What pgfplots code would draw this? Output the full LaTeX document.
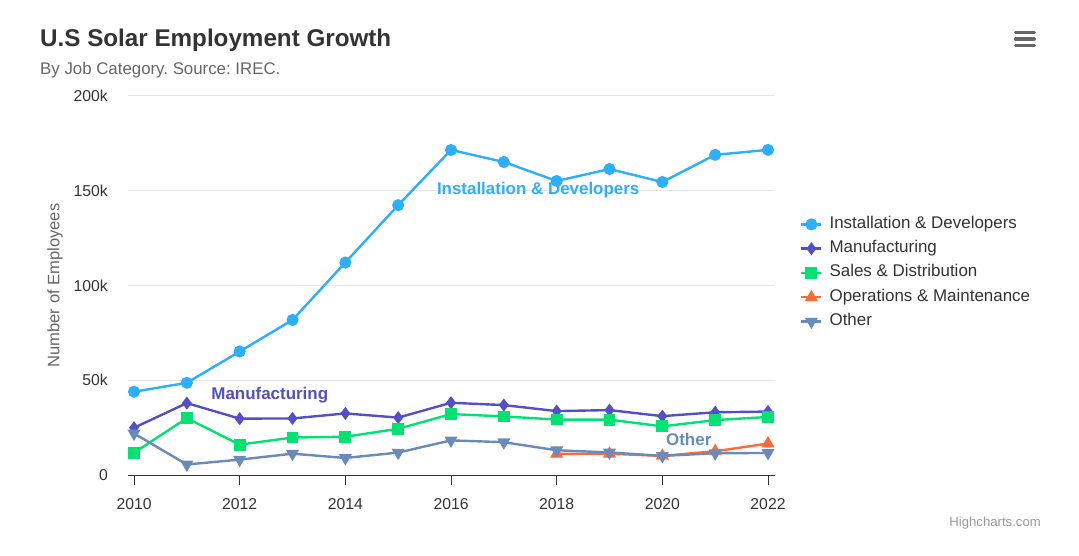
\documentclass[border=0pt]{standalone}
\usepackage{pgfplots}
\pgfplotsset{compat=1.18}
\usepackage{fontspec}
\setmainfont{Liberation Sans}
\frenchspacing

\definecolor{c1}{HTML}{2CAFFE}
\definecolor{c2}{HTML}{544FC5}
\definecolor{c3}{HTML}{00E272}
\definecolor{c4}{HTML}{FE6A35}
\definecolor{c5}{HTML}{6B8ABC}
\definecolor{txt}{HTML}{333333}
\definecolor{sub}{HTML}{666666}
\definecolor{cred}{HTML}{999999}
\definecolor{gridc}{HTML}{E6E6E6}

\begin{document}
\begin{tikzpicture}
\path[use as bounding box] (0bp,0bp) rectangle (1079bp,556bp);
\begin{axis}[
    at={(128bp,81bp)}, anchor=south west,
    scale only axis, width=647bp, height=379bp,
    xmin=2009.886, xmax=2022.1325,
    ymin=0, ymax=200000,
    /pgf/number format/assume math mode=true,
    /pgf/number format/1000 sep={},
    axis x line*=bottom, axis y line*=left,
    x axis line style={draw=txt, line width=1bp, -},
    y axis line style={draw=none},
    xtick={2010,2012,...,2022},
    ytick={0,50000,100000,150000,200000},
    yticklabels={0,50k,100k,150k,200k},
    scaled y ticks=false,
    tick align=outside, major tick length=10bp,
    xtick style={draw=txt, line width=1bp},
    ytick style={draw=none},
    ymajorgrids, grid style={draw=gridc, line width=1bp},
    tick label style={font=\fontsize{15.8}{18}\selectfont, text=txt},
    xticklabel style={inner sep=0pt, anchor=north, yshift=-13bp},
    yticklabel style={inner sep=0pt, anchor=east, xshift=-10bp},
    ylabel={Number of Employees},
    ylabel style={at={(axis description cs:-0.1128,0.5)}, anchor=center, rotate=0,
        font=\fontsize{16.6}{19}\selectfont, text=sub},
    legend style={draw=none, fill=none, inner sep=0pt,
        at={(axis description cs:1.0386,0.533)}, anchor=west,
        font=\fontsize{17}{20}\selectfont, text=txt,
        nodes={inner sep=0pt, text height=12bp, text depth=4bp},
        row sep=8.3bp, column sep=7bp},
    legend cell align=left,
    legend image code/.code={
        \draw[mark repeat=2, mark phase=2, #1]
        plot coordinates {(0bp,0bp) (10bp,0bp) (20bp,0bp)};},
    every axis plot/.append style={line width=2.4bp},
]
\addplot[color=c1, mark=*, mark size=4.8bp, mark options={solid}] coordinates {
    (2010,43934) (2011,48656) (2012,65165) (2013,81827) (2014,112143)
    (2015,142383) (2016,171533) (2017,165174) (2018,155157) (2019,161454)
    (2020,154610) (2021,168960) (2022,171558)};
\addlegendentry{Installation \& Developers}
\addplot[color=c2, mark=diamond*, mark size=4.6bp, mark options={solid}] coordinates {
    (2010,24916) (2011,37941) (2012,29742) (2013,29851) (2014,32490)
    (2015,30282) (2016,38121) (2017,36885) (2018,33726) (2019,34243)
    (2020,31050) (2021,33099) (2022,33473)};
\addlegendentry{Manufacturing}
\addplot[color=c3, mark=square*, mark size=4.7bp, mark options={solid}] coordinates {
    (2010,11744) (2011,30000) (2012,16005) (2013,19771) (2014,20185)
    (2015,24377) (2016,32147) (2017,30912) (2018,29243) (2019,29213)
    (2020,25663) (2021,28978) (2022,30618)};
\addlegendentry{Sales \& Distribution}
\addplot[color=c4, mark=triangle*, mark size=5.2bp, mark options={solid}] coordinates {
    (2018,11164) (2019,11218) (2020,10077) (2021,12530) (2022,16585)};
\addlegendentry{Operations \& Maintenance}
\addplot[color=c5, mark=triangle*, mark size=5.2bp, mark options={solid, rotate=180}] coordinates {
    (2010,21908) (2011,5548) (2012,8105) (2013,11248) (2014,8989)
    (2015,11816) (2016,18274) (2017,17300) (2018,13053) (2019,11906)
    (2020,10073) (2021,11471) (2022,11648)};
\addlegendentry{Other}

\node[font=\bfseries\fontsize{17}{20}\selectfont, text=c1] at (axis cs:2017.65,150400) {Installation \& Developers};
\node[font=\bfseries\fontsize{17}{20}\selectfont, text=c2] at (axis cs:2012.57,42200) {Manufacturing};
\node[font=\bfseries\fontsize{17}{20}\selectfont, text=c5] at (axis cs:2020.5,18500) {Other};
\end{axis}

\node[anchor=base west, inner sep=0pt, font=\bfseries\fontsize{24.3}{28}\selectfont, text=txt] at (40bp,509bp) {U.S Solar Employment Growth};
\node[anchor=base west, inner sep=0pt, font=\fontsize{16.9}{19}\selectfont, text=sub] at (40bp,481bp) {By Job Category. Source: IREC.};
\node[anchor=base east, inner sep=0pt, font=\fontsize{13.2}{15}\selectfont, text=cred] at (1041bp,30bp) {Highcharts.com};
\foreach \yy in {523.3,517,510.7}
  \draw[sub, line width=3.2bp, line cap=round] (1015.5bp,\yy bp) -- (1034.3bp,\yy bp);
\end{tikzpicture}
\end{document}
